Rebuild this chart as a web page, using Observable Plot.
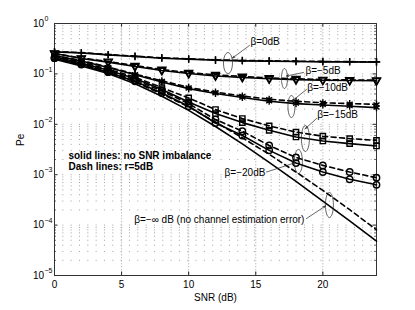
<!DOCTYPE html>
<html>
<head>
<meta charset="utf-8">
<script src="https://cdn.jsdelivr.net/npm/d3@7"></script>
<script src="https://cdn.jsdelivr.net/npm/@observablehq/plot@0.6"></script>
<style>
  html, body { margin: 0; padding: 0; background: white; }
</style>
</head>
<body>
<div id="chart"></div>
<script>
// ---- data ----
const snr = [0, 2, 4, 6, 8, 10, 12, 14, 16, 18, 20, 22, 24];
const xTicks = [0, 5, 10, 15, 20];
const yExponents = [0, -1, -2, -3, -4, -5];

const pe_b0_solid   = [0.274, 0.261, 0.239, 0.221, 0.205, 0.196, 0.187, 0.181, 0.179, 0.176, 0.173, 0.173, 0.171];
const pe_b0_dash    = [0.276, 0.264, 0.242, 0.225, 0.209, 0.199, 0.190, 0.185, 0.182, 0.179, 0.177, 0.175, 0.174];
const pe_b5_solid   = [0.254, 0.202, 0.171, 0.140, 0.117, 0.102, 0.091, 0.085, 0.080, 0.077, 0.075, 0.074, 0.073];
const pe_b5_dash    = [0.256, 0.206, 0.177, 0.146, 0.122, 0.106, 0.096, 0.089, 0.083, 0.080, 0.077, 0.076, 0.075];
const pe_b10_solid  = [0.231, 0.181, 0.134, 0.096, 0.069, 0.051, 0.041, 0.034, 0.0286, 0.0257, 0.0242, 0.0228, 0.0214];
const pe_b10_dash   = [0.233, 0.184, 0.137, 0.099, 0.073, 0.054, 0.0435, 0.0365, 0.0315, 0.0285, 0.0268, 0.0258, 0.0249];
const pe_b15_solid  = [0.218, 0.165, 0.118, 0.081, 0.049, 0.0278, 0.0163, 0.0108, 0.0076, 0.0056, 0.00467, 0.00413, 0.00371];
const pe_b15_dash   = [0.221, 0.171, 0.124, 0.086, 0.0535, 0.0333, 0.0196, 0.0130, 0.0093, 0.0070, 0.0058, 0.0052, 0.0048];
const pe_b20_solid  = [0.205, 0.153, 0.108, 0.0715, 0.0419, 0.0228, 0.0106, 0.0060, 0.00304, 0.0017, 0.00113, 0.00081, 0.00063];
const pe_b20_dash   = [0.208, 0.158, 0.113, 0.076, 0.046, 0.0257, 0.0124, 0.0073, 0.0038, 0.0022, 0.00153, 0.00113, 0.00087];
const pe_binf_solid = [0.196, 0.144, 0.1014, 0.064, 0.036, 0.0189, 0.00904, 0.00408, 0.00176, 0.000735, 0.000299, 0.000121, 0.000048];
const pe_binf_dash  = [0.199, 0.149, 0.106, 0.069, 0.040, 0.0221, 0.0111, 0.0054, 0.00254, 0.00113, 0.000488, 0.000202, 0.0000808];

const betas = ["0", "-5", "-10", "-15", "-20", "-inf"];
const markerOf = {"0": "plus", "-5": "triangle", "-10": "asterisk", "-15": "square", "-20": "circle"};

// annotations
const annotLabels = ["β=0dB", "β=−5dB", "β=−10dB", "β=−15dB", "β=−20dB", "β=−∞ dB (no channel estimation error)"];
const annotX = [14.6, 18.7, 18.83, 19.58, 15.72, 18.63];
const annotY = [0.44, 0.1168, 0.0537, 0.01565, 0.00111, 0.000129];
const annotAnchor = ["start", "start", "start", "start", "end", "end"];
const arrowX1 = [14.53, 18.56, 18.78, 19.53, 15.8, 18.78];
const arrowY1 = [0.366, 0.1066, 0.049, 0.01303, 0.00113, 0.000135];
const arrowX2 = [13.27, 17.29, 17.66, 18.71, 17.88, 20.19];
const arrowY2 = [0.2067, 0.0908, 0.02834, 0.00825, 0.001706, 0.000239];
const ellX = [12.93, 17.14, 17.66, 18.7, 18.18, 20.49];
const ellY = [0.164, 0.0811, 0.02255, 0.00523, 0.00183, 0.000251];
const ellRx = [4.5, 3, 3.5, 4, 4, 4];
const ellRy = [10.5, 10, 11, 13, 12, 12.5];

const legendLines = ["solid lines: no SNR imbalance", "Dash lines: r=5dB"];
const legendX = [1.04, 1.04];
const legendY = [0.0024, 0.00141];

// ---- build tables ----
const solidSeries = [pe_b0_solid, pe_b5_solid, pe_b10_solid, pe_b15_solid, pe_b20_solid, pe_binf_solid];
const dashSeries = [pe_b0_dash, pe_b5_dash, pe_b10_dash, pe_b15_dash, pe_b20_dash, pe_binf_dash];
const rows = [];
betas.forEach((b, k) => {
  snr.forEach((x, i) => {
    rows.push({snr: x, pe: solidSeries[k][i], beta: b, style: "solid"});
    rows.push({snr: x, pe: dashSeries[k][i], beta: b, style: "dash"});
  });
});

const annots = annotLabels.map((t, i) => ({text: t, x: annotX[i], y: annotY[i], anchor: annotAnchor[i]}));

const yGrid = yExponents.filter(e => e < 0).flatMap(e => [1,2,3,4,5,6,7,8,9].map(m => m * 10 ** e)).concat([1]);
const yMajor = yExponents.map(e => 10 ** e);
const yMinor = yGrid.filter(v => !yMajor.some(m => Math.abs(m - v) < v * 1e-9));

function ellipseSymbol(rx, ry) {
  const k = 0.5523;
  return {
    draw(ctx) {
      ctx.moveTo(rx, 0);
      ctx.bezierCurveTo(rx, k * ry, k * rx, ry, 0, ry);
      ctx.bezierCurveTo(-k * rx, ry, -rx, k * ry, -rx, 0);
      ctx.bezierCurveTo(-rx, -k * ry, -k * rx, -ry, 0, -ry);
      ctx.bezierCurveTo(k * rx, -ry, rx, -k * ry, rx, 0);
      ctx.closePath();
    }
  };
}

const W = 415, H = 310, ML = 54, MR = 39, MT = 23, MB = 35;
const PW = W - ML - MR, PH = H - MT - MB;
const font = "'Liberation Sans', Arial, Helvetica, sans-serif";

const markerMarks = Object.entries(markerOf).map(([b, sym]) => {
  const opts = {
    x: "snr", y: "pe", symbol: sym, fill: "none", stroke: "black", strokeWidth: 1.4,
    r: sym === "plus" ? 2.5 : sym === "triangle" ? 2.9 : sym === "asterisk" ? 3.3 : sym === "square" ? 3.0 : 3.2
  };
  if (sym === "triangle") opts.rotate = 180;
  return Plot.dot(rows.filter(d => d.beta === b), opts);
});

const chart = Plot.plot({
  width: W, height: H,
  marginLeft: ML, marginRight: MR, marginTop: MT, marginBottom: MB,
  style: {fontFamily: font, fontSize: "10px", background: "white", color: "black"},
  x: {domain: [0, 24], axis: null},
  y: {type: "log", domain: [1e-5, 1], axis: null},
  marks: [
    // grid
    Plot.ruleY(yGrid, {stroke: "#8a8a8a", strokeWidth: 0.8, strokeDasharray: "1,7.33"}),
    Plot.ruleX(xTicks.filter(t => t > 0), {stroke: "#b0b0b0", strokeWidth: 0.8, strokeDasharray: "1.5,1.5"}),
    // inward ticks
    Plot.ruleX(xTicks, {stroke: "#222", insetTop: PH - 3.5}),
    Plot.ruleX(xTicks, {stroke: "#222", insetBottom: PH - 3.5}),
    Plot.ruleY(yMajor, {stroke: "#222", insetRight: PW - 3.5}),
    Plot.ruleY(yMajor, {stroke: "#222", insetLeft: PW - 3.5}),
    Plot.ruleY(yMinor, {stroke: "#444", strokeWidth: 0.8, insetRight: PW - 2}),
    Plot.ruleY(yMinor, {stroke: "#444", strokeWidth: 0.8, insetLeft: PW - 2}),
    Plot.frame({stroke: "#333", strokeWidth: 1}),
    // curves
    Plot.line(rows.filter(d => d.style === "solid"), {x: "snr", y: "pe", z: "beta", stroke: "black", strokeWidth: 1.6}),
    Plot.line(rows.filter(d => d.style === "dash"), {x: "snr", y: "pe", z: "beta", stroke: "black", strokeWidth: 1.6, strokeDasharray: "5,3.5"}),
    ...markerMarks,
    // annotations
    ...ellX.map((_, i) => Plot.dot([i], {x: () => ellX[i], y: () => ellY[i], symbol: ellipseSymbol(ellRx[i], ellRy[i]), fill: "none", stroke: "#222", strokeWidth: 0.7})),
    Plot.arrow(annotLabels, {x1: arrowX1, y1: arrowY1, x2: arrowX2, y2: arrowY2, stroke: "#222", strokeWidth: 0.7, headLength: 5, headAngle: 45}),
    Plot.text(annots.filter(d => d.anchor === "start"), {x: "x", y: "y", text: "text", textAnchor: "start", fontSize: 10, lineAnchor: "middle"}),
    Plot.text(annots.filter(d => d.anchor === "end"), {x: "x", y: "y", text: "text", textAnchor: "end", fontSize: 10, lineAnchor: "middle"}),
    Plot.text(legendLines, {x: legendX, y: legendY, text: d => d, textAnchor: "start", fontSize: 10, fontWeight: "bold", lineAnchor: "middle"}),
    // axes
    Plot.axisX({ticks: xTicks, tickSize: 0, tickPadding: 5, tickFormat: d => String(d), label: null, fontSize: 10}),
    Plot.text(["SNR (dB)"], {x: 12, frameAnchor: "bottom", dy: 22.5, text: d => d, fontSize: 10, lineAnchor: "middle"}),
    Plot.text(yExponents, {y: d => 10 ** d, text: () => "10", frameAnchor: "left", textAnchor: "end", dx: -10.5, lineAnchor: "middle", fontSize: 10}),
    Plot.text(yExponents, {y: d => 10 ** d, text: d => d === 0 ? "0" : "−" + (-d), frameAnchor: "left", textAnchor: "start", dx: -10, dy: -4.5, lineAnchor: "middle", fontSize: 7}),
    Plot.text(["Pe"], {frameAnchor: "left", text: d => d, rotate: -90, dx: -33.5, dy: -3.5, fontSize: 10, lineAnchor: "middle"})
  ]
});
document.getElementById("chart").appendChild(chart);
</script>
</body>
</html>
